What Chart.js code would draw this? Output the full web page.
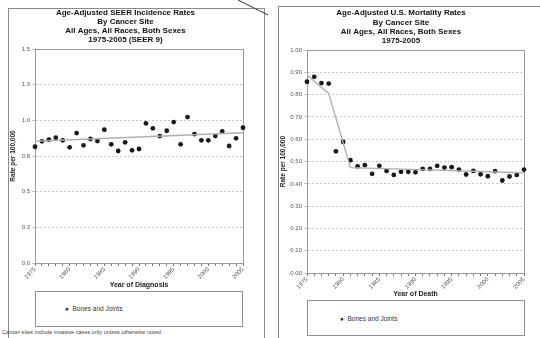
<!DOCTYPE html>
<html>
<head>
<meta charset="utf-8">
<script src="https://cdn.jsdelivr.net/npm/chart.js@4"></script>
<style>
  body { margin: 0; width: 540px; height: 338px; background: #fff; position: relative; overflow: hidden;
         font-family: "Liberation Sans", Arial, sans-serif; }
  .frame { position: absolute; border: 1px solid #8a8a8a; box-sizing: border-box; }
  canvas { position: absolute; }
  .legend { position: absolute; border: 1px solid #8f8f8f; box-sizing: border-box; font-size: 6.5px; color: #333; }
  .legend span { position: absolute; white-space: nowrap; }
  .note { position: absolute; left: 2px; top: 329px; font-size: 5.6px; color: #444; white-space: nowrap; }
</style>
</head>
<body>
<div class="frame" style="left:8px;top:8px;width:257px;height:340px;border-bottom:none;"></div>
<div class="frame" style="left:278px;top:6px;width:280px;height:340px;border-bottom:none;border-right:none;"></div>
<svg style="position:absolute;left:0;top:0" width="540" height="20">
  <line x1="238" y1="0" x2="268" y2="15" stroke="#333" stroke-width="1"/>
</svg>

<canvas id="seer" width="256" height="282" style="left:8px;top:8px;"></canvas>
<canvas id="mort" width="262" height="291" style="left:278px;top:8px;"></canvas>

<div class="legend" style="left:35px;top:291px;width:208px;height:36px;">
  <span style="left:29px;top:13px;">&#9679;&nbsp; Bones and Joints</span>
</div>
<div class="legend" style="left:307px;top:300px;width:218px;height:36px;">
  <span style="left:32px;top:14px;">&#9679;&nbsp; Bones and Joints</span>
</div>
<div class="note">Cancer sites include invasive cases only unless otherwise noted.</div>

<script>
const years = [1975, 1976, 1977, 1978, 1979, 1980, 1981, 1982, 1983, 1984, 1985, 1986, 1987, 1988, 1989, 1990,
  1991, 1992, 1993, 1994, 1995, 1996, 1997, 1998, 1999, 2000, 2001, 2002, 2003, 2004, 2005];

// SEER incidence, rate per 100,000
const incidence = [0.815, 0.853, 0.864, 0.878, 0.860, 0.811, 0.911, 0.825, 0.869, 0.855, 0.934, 0.832, 0.785,
  0.846, 0.790, 0.799, 0.979, 0.944, 0.890, 0.927, 0.988, 0.832, 1.023, 0.904, 0.860, 0.860, 0.890, 0.923,
  0.820, 0.874, 0.948];
const incidenceTrendYears = [1975, 2005];
const incidenceTrend = [0.853, 0.913];

// U.S. mortality, rate per 100,000
const mortality = [0.858, 0.880, 0.852, 0.850, 0.546, 0.588, 0.506, 0.478, 0.484, 0.445, 0.481, 0.458, 0.440,
  0.454, 0.454, 0.452, 0.467, 0.467, 0.481, 0.473, 0.475, 0.464, 0.442, 0.458, 0.443, 0.434, 0.457, 0.415,
  0.433, 0.440, 0.464];
const mortalityTrendYears = [1975, 1978, 1981, 2005];
const mortalityTrend = [0.888, 0.806, 0.473, 0.450];

const seerTicks = [0, 0.25, 0.5, 0.75, 1.0, 1.25, 1.5];
const mortTicks = [0, 0.1, 0.2, 0.3, 0.4, 0.5, 0.6, 0.7, 0.8, 0.9, 1.0];

const FONT = '"Liberation Sans", Arial, sans-serif';

const boxBorder = {
  id: 'boxBorder',
  beforeDatasetsDraw(chart) {
    const a = chart.chartArea, ctx = chart.ctx;
    ctx.save();
    ctx.strokeStyle = '#999';
    ctx.lineWidth = 1;
    ctx.strokeRect(Math.round(a.left) + 0.5, Math.round(a.top) + 0.5,
      Math.round(a.right - a.left), Math.round(a.bottom - a.top));
    ctx.restore();
  }
};

function pts(xs, ys) {
  return xs.map((x, i) => ({ x: x, y: ys[i] }));
}

function makeChart(id, cfg) {
  new Chart(document.getElementById(id), {
    type: 'scatter',
    data: {
      datasets: [
        {
          label: 'trend',
          data: pts(cfg.trendYears, cfg.trend),
          showLine: true,
          borderColor: '#b0b0b0',
          borderWidth: 1.4,
          pointRadius: 0,
          tension: 0
        },
        {
          label: 'Bones and Joints',
          data: pts(years, cfg.values),
          pointRadius: 2.4,
          pointBackgroundColor: '#1a1a1a',
          pointBorderWidth: 0,
          showLine: false,
          clip: false
        }
      ]
    },
    plugins: [boxBorder],
    options: {
      responsive: false,
      animation: false,
      layout: { padding: { top: 0, right: cfg.padRight, left: 0, bottom: 0 } },
      plugins: {
        legend: { display: false },
        tooltip: { enabled: false },
        title: {
          display: true,
          text: cfg.title,
          color: '#111',
          font: { family: FONT, size: 8, weight: 'bold', lineHeight: cfg.titleLH },
          padding: { top: 0.5, bottom: cfg.titlePad }
        }
      },
      scales: {
        x: {
          type: 'linear',
          min: 1975,
          max: 2005,
          afterFit: s => { s.height = cfg.xHeight; },
          afterBuildTicks: s => { s.ticks = years.map(v => ({ value: v })); },
          ticks: {
            autoSkip: false,
            minRotation: 45,
            maxRotation: 45,
            padding: 0,
            color: '#555',
            font: { family: FONT, size: 6 },
            callback: v => (v % 5 === 0 ? String(v) : '')
          },
          grid: { drawOnChartArea: false, tickLength: 3, color: '#777' },
          border: { display: true, color: '#999' },
          title: {
            display: true,
            text: cfg.xTitle,
            color: '#222',
            font: { family: FONT, size: 7, weight: 'bold' },
            padding: { top: 0, bottom: 1 }
          }
        },
        y: {
          min: 0,
          max: cfg.ticks[cfg.ticks.length - 1],
          afterFit: s => { s.width = cfg.yWidth; },
          afterBuildTicks: s => { s.ticks = cfg.ticks.map(v => ({ value: v })); },
          ticks: {
            padding: 2,
            color: '#555',
            font: { family: FONT, size: 6 },
            callback: v => v.toFixed(cfg.digits)
          },
          grid: { color: '#c8c8c8', tickLength: 3, tickBorderDash: [] },
          border: { display: true, color: '#999', dash: [2, 2] },
          title: {
            display: true,
            text: 'Rate per 100,000',
            color: '#222',
            font: { family: FONT, size: 6.5, weight: 'bold' },
            padding: { top: 1, bottom: 0 }
          }
        }
      }
    }
  });
}

makeChart('seer', {
  title: ['Age-Adjusted SEER Incidence Rates', 'By Cancer Site', 'All Ages, All Races, Both Sexes', '1975-2005 (SEER 9)'],
  values: incidence,
  trendYears: incidenceTrendYears,
  trend: incidenceTrend,
  ticks: seerTicks,
  digits: 1,
  xTitle: 'Year of Diagnosis',
  padRight: 21,
  yWidth: 27,
  xHeight: 27,
  titleLH: 1.125,
  titlePad: 4.5
});

makeChart('mort', {
  title: ['Age-Adjusted U.S. Mortality Rates', 'By Cancer Site', 'All Ages, All Races, Both Sexes', '1975-2005'],
  values: mortality,
  trendYears: mortalityTrendYears,
  trend: mortalityTrend,
  ticks: mortTicks,
  digits: 2,
  xTitle: 'Year of Death',
  padRight: 16,
  yWidth: 29,
  xHeight: 26,
  titleLH: 1.16,
  titlePad: 4.5
});
</script>
</body>
</html>
